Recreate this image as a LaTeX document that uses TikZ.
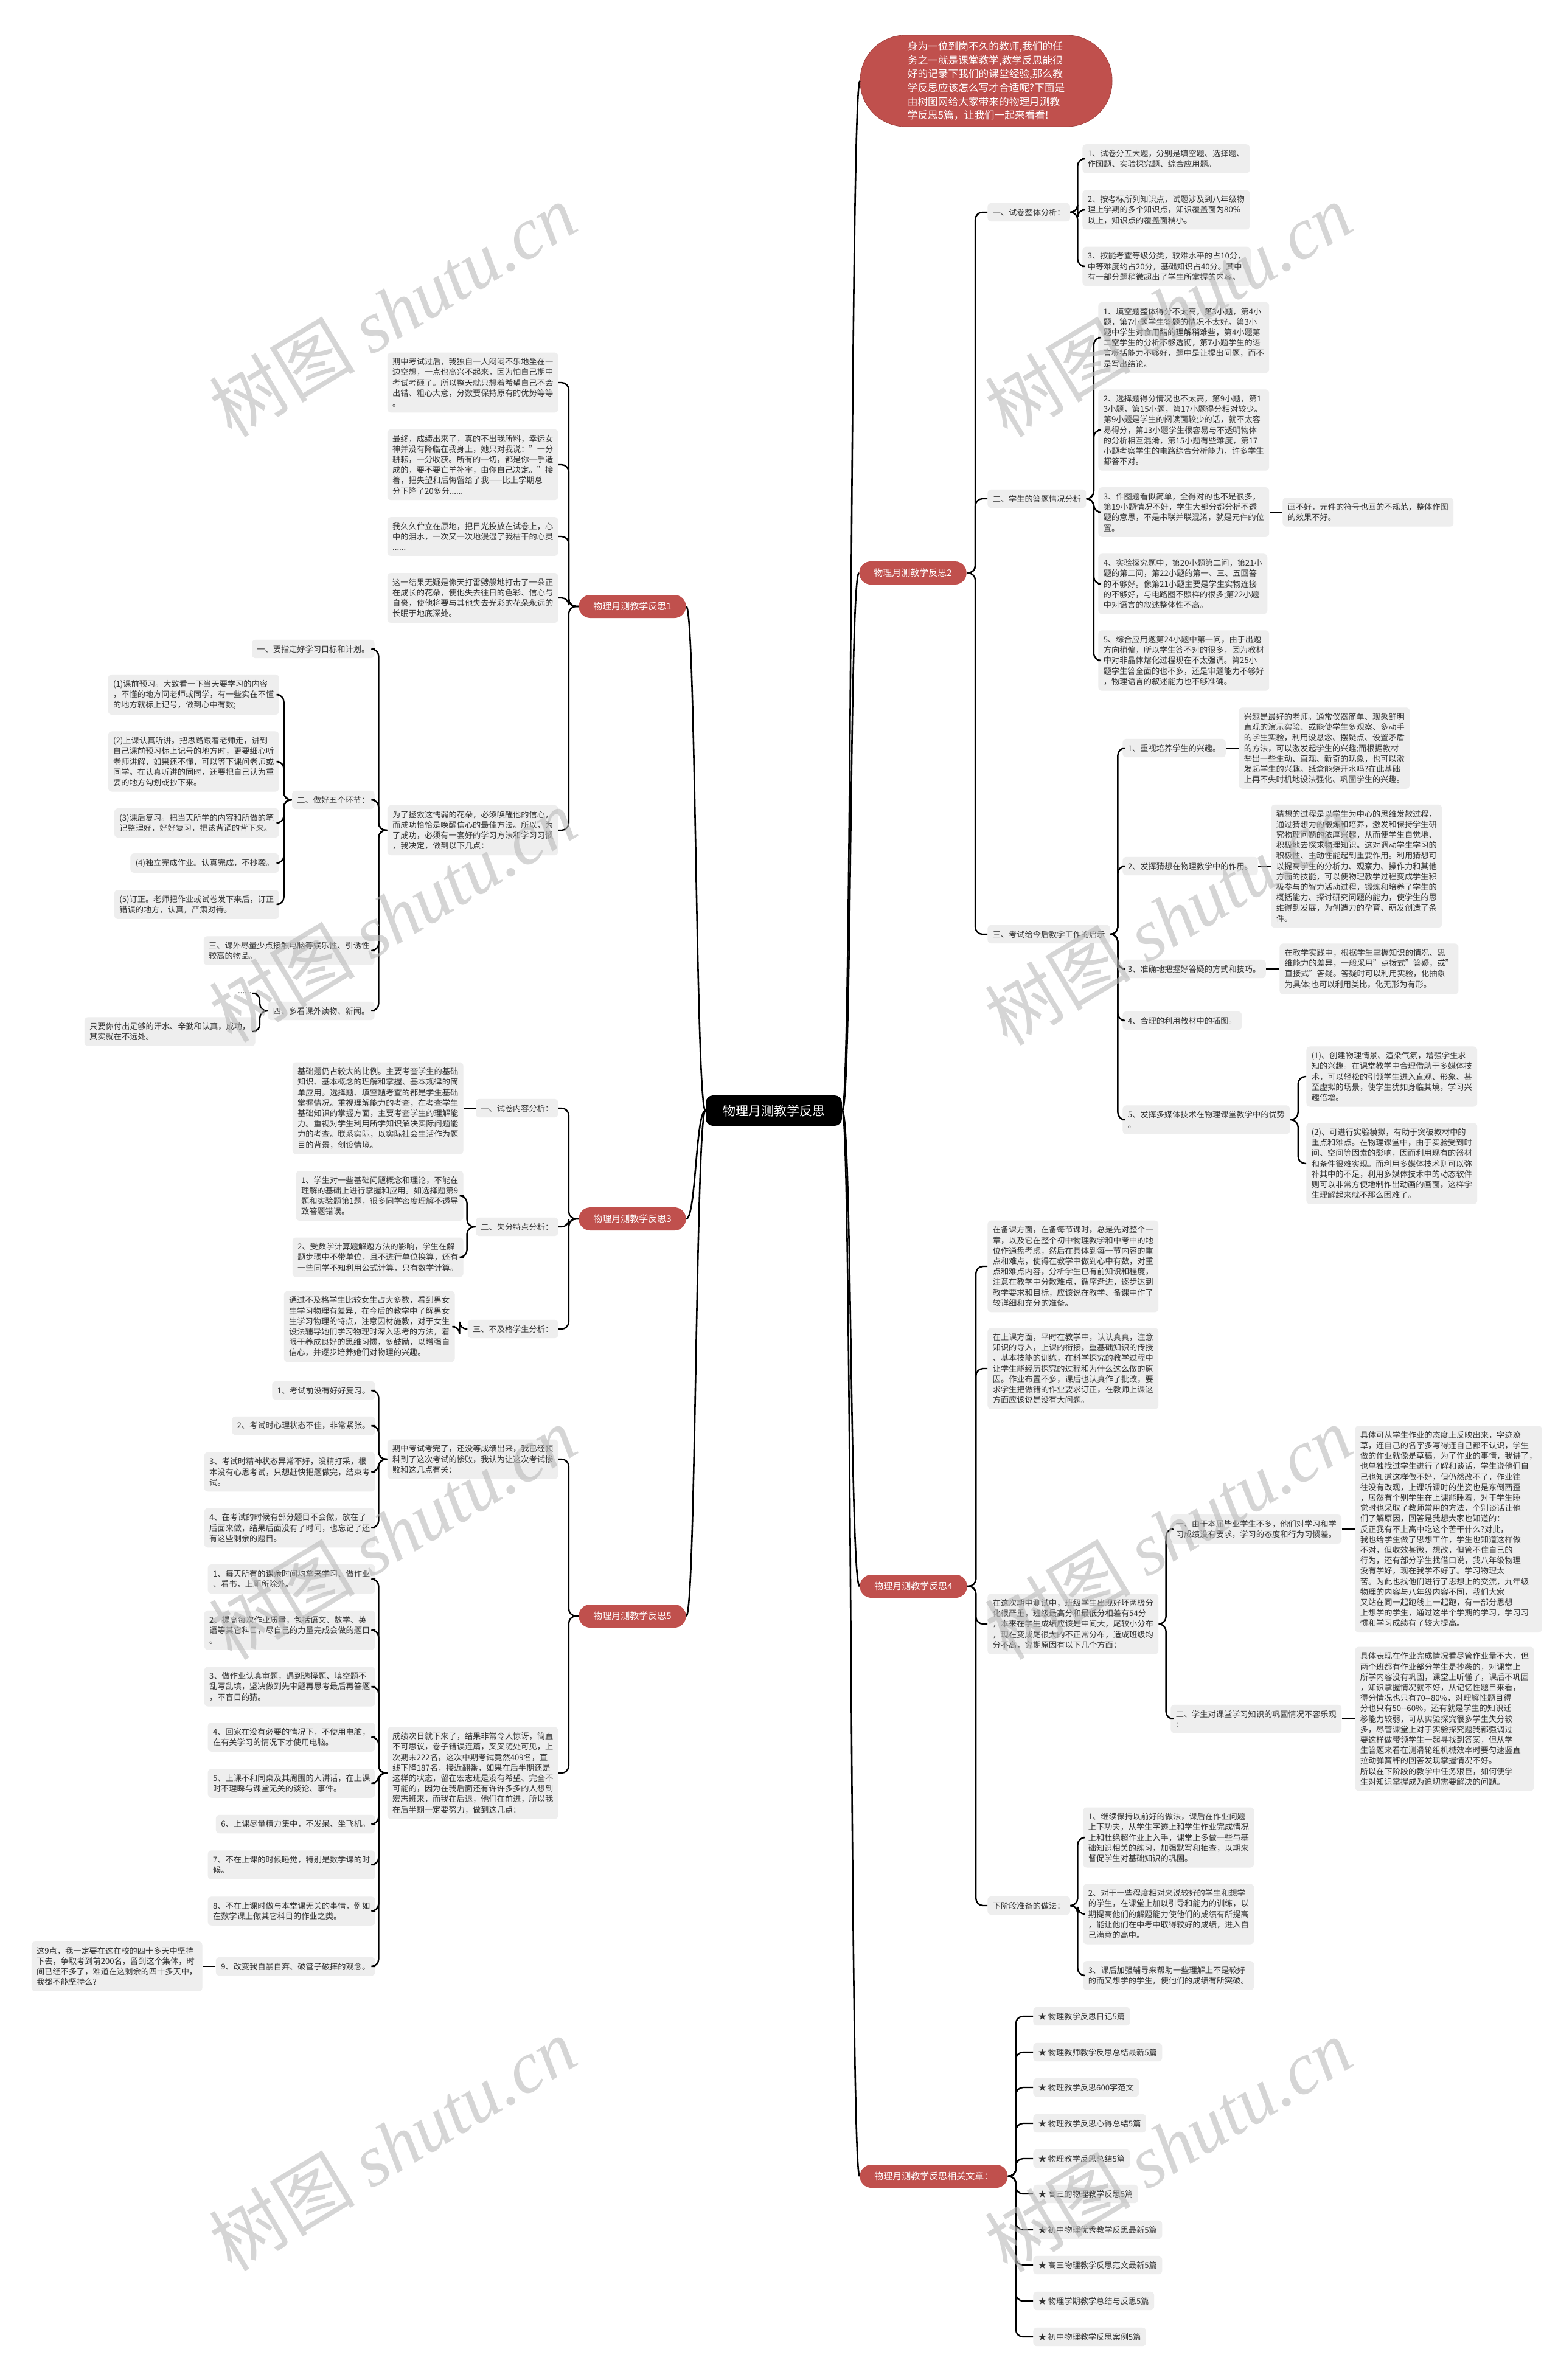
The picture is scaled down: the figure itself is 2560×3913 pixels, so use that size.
\documentclass[tikz,border=0pt]{standalone}
\usepackage{fontspec}
\setmainfont{Noto Sans CJK SC}
\newfontfamily\wmlatin{Liberation Serif}
\usetikzlibrary{positioning}
\definecolor{mapred}{RGB}{192,80,77}
\definecolor{mapgray}{RGB}{238,238,238}
\definecolor{maptext}{RGB}{51,51,51}
\definecolor{mapwater}{RGB}{185,185,185}

\begin{document}
\begin{tikzpicture}[x=0.5pt,y=-0.5pt,
  rootbox/.style={fill=black,text=white,rounded corners=6pt,font=\fontsize{10.5pt}{12pt}\selectfont,inner xsep=14pt,minimum height=25pt},
  introbox/.style={fill=mapred,draw=mapred!85!black,line width=0.4pt,text=white,rounded corners=37pt,minimum width=207pt,minimum height=75pt,align=left,font=\fontsize{8.35pt}{11.35pt}\selectfont},
  fsbox/.style={fill=mapred,text=white,rounded corners=9.5pt,font=\fontsize{7.5pt}{9pt}\selectfont,inner xsep=12pt,minimum height=19pt},
  notebox/.style={fill=mapgray,text=maptext,rounded corners=3pt,font=\fontsize{6.6pt}{8.6pt}\selectfont,align=left,inner xsep=4.2pt,inner ysep=4.5pt},
  conn/.style={draw=black,line width=1.2pt,rounded corners=6pt},
  trunk/.style={draw=black,line width=1.3pt},
  water/.style={rotate=31,text=mapwater,opacity=0.6,font=\fontsize{60pt}{60pt}\selectfont}
]
\useasboundingbox (0,0) rectangle (2560,3913);
\fill[white] (0,0) rectangle (2560,3913);

\node[rootbox] (main) at (1272,1826) {物理月测教学反思};
\node[introbox] (intro) at (1621,133) {身为一位到岗不久的教师,我们的任\\务之一就是课堂教学,教学反思能很\\好的记录下我们的课堂经验,那么教\\学反思应该怎么写才合适呢?下面是\\由树图网给大家带来的物理月测教\\学反思5篇，让我们一起来看看!};

\node[fsbox,anchor=east] (fs1) at (1128,997) {物理月测教学反思1};
\node[fsbox,anchor=west] (fs2) at (1412,942) {物理月测教学反思2};
\node[fsbox,anchor=east] (fs3) at (1128,2004) {物理月测教学反思3};
\node[fsbox,anchor=west] (fs4) at (1413,2608) {物理月测教学反思4};
\node[fsbox,anchor=east] (fs5) at (1128,2657) {物理月测教学反思5};
\node[fsbox,anchor=west] (rel) at (1413,3578) {物理月测教学反思相关文章：};

% 反思1
\node[notebox,anchor=east] (n1a) at (918,629) {期中考试过后，我独自一人闷闷不乐地坐在一\\边空想，一点也高兴不起来，因为怕自己期中\\考试考砸了。所以整天就只想着希望自己不会\\出错、粗心大意，分数要保持原有的优势等等\\。};
\node[notebox,anchor=east] (n1b) at (918,764) {最终，成绩出来了，真的不出我所料，幸运女\\神并没有降临在我身上，她只对我说："一分\\耕耘，一分收获。所有的一切，都是你一手造\\成的，要不要亡羊补牢，由你自己决定。"接\\着，把失望和后悔留给了我——比上学期总\\分下降了20多分......};
\node[notebox,anchor=east] (n1c) at (918,882) {我久久伫立在原地，把目光投放在试卷上，心\\中的泪水，一次又一次地漫湿了我枯干的心灵\\......};
\node[notebox,anchor=east] (n1d) at (918,983) {这一结果无疑是像天打雷劈般地打击了一朵正\\在成长的花朵，使他失去往日的色彩、信心与\\自豪，使他将要与其他失去光彩的花朵永远的\\长眠于地底深处。};
\node[notebox,anchor=east] (n1e) at (918,1365) {为了拯救这懦弱的花朵，必须唤醒他的信心，\\而成功恰恰是唤醒信心的最佳方法。所以，为\\了成功，必须有一套好的学习方法和学习习惯\\，我决定，做到以下几点：};
\node[notebox,anchor=east] (n1e1) at (616,1067) {一、要指定好学习目标和计划。};
\node[notebox,anchor=east] (n1e2) at (616,1315) {二、做好五个环节：};
\node[notebox,anchor=east] (n1e2a) at (459,1142) {(1)课前预习。大致看一下当天要学习的内容\\，不懂的地方问老师或同学，有一些实在不懂\\的地方就标上记号，做到心中有数;};
\node[notebox,anchor=east] (n1e2b) at (459,1252) {(2)上课认真听讲。把思路跟着老师走，讲到\\自己课前预习标上记号的地方时，更要细心听\\老师讲解，如果还不懂，可以等下课问老师或\\同学。在认真听讲的同时，还要把自己认为重\\要的地方勾划或抄下来。};
\node[notebox,anchor=east] (n1e2c) at (459,1353) {(3)课后复习。把当天所学的内容和所做的笔\\记整理好，好好复习，把该背诵的背下来。};
\node[notebox,anchor=east] (n1e2d) at (459,1419) {(4)独立完成作业。认真完成，不抄袭。};
\node[notebox,anchor=east] (n1e2e) at (459,1487) {(5)订正。老师把作业或试卷发下来后，订正\\错误的地方，认真，严肃对待。};
\node[notebox,anchor=east] (n1e3) at (616,1563) {三、课外尽量少点接触电脑等娱乐性、引诱性\\较高的物品。};
\node[notebox,anchor=east] (n1e4) at (616,1662) {四、多看课外读物、新闻。};
\node[notebox,fill=none,anchor=east] (n1e4a) at (422,1633) {......};
\node[notebox,anchor=east] (n1e4b) at (420,1696) {只要你付出足够的汗水、辛勤和认真，成功，\\其实就在不远处。};

% 反思2
\node[notebox,anchor=west] (n2a) at (1623,349) {一、试卷整体分析：};
\node[notebox,anchor=west] (n2a1) at (1779,261) {1、试卷分五大题，分别是填空题、选择题、\\作图题、实验探究题、综合应用题。};
\node[notebox,anchor=west] (n2a2) at (1779,345) {2、按考标所列知识点，试题涉及到八年级物\\理上学期的多个知识点，知识覆盖面为80\%\\以上，知识点的覆盖面稍小。};
\node[notebox,anchor=west] (n2a3) at (1779,438) {3、按能考查等级分类，较难水平的占10分，\\中等难度约占20分，基础知识占40分。其中\\有一部分题稍微超出了学生所掌握的内容。};
\node[notebox,anchor=west] (n2b) at (1623,820) {二、学生的答题情况分析};
\node[notebox,anchor=west] (n2b1) at (1805,555) {1、填空题整体得分不太高，第3小题，第4小\\题，第7小题学生答题的情况不太好。第3小\\题中学生对食用醋的理解稍难些，第4小题第\\二空学生的分析不够透彻，第7小题学生的语\\言概括能力不够好，题中是让提出问题，而不\\是写出结论。};
\node[notebox,anchor=west] (n2b2) at (1805,707) {2、选择题得分情况也不太高，第9小题，第1\\3小题，第15小题，第17小题得分相对较少。\\第9小题是学生的阅读面较少的话，就不太容\\易得分，第13小题学生很容易与不透明物体\\的分析相互混淆，第15小题有些难度，第17\\小题考察学生的电路综合分析能力，许多学生\\都答不对。};
\node[notebox,anchor=west] (n2b3) at (1805,842) {3、作图题看似简单，全得对的也不是很多，\\第19小题情况不好，学生大部分都分析不透\\题的意思，不是串联并联混淆，就是元件的位\\置。};
\node[notebox,anchor=west] (n2b3a) at (2108,842) {画不好，元件的符号也画的不规范，整体作图\\的效果不好。};
\node[notebox,anchor=west] (n2b4) at (1805,960) {4、实验探究题中，第20小题第二问，第21小\\题的第二问，第22小题的第一、三、五回答\\的不够好。像第21小题主要是学生实物连接\\的不够好，与电路图不照样的很多;第22小题\\中对语言的叙述整体性不高。};
\node[notebox,anchor=west] (n2b5) at (1805,1086) {5、综合应用题第24小题中第一问，由于出题\\方向稍偏，所以学生答不对的很多，因为教材\\中对非晶体熔化过程现在不太强调。第25小\\题学生答全面的也不多，还是审题能力不够好\\，物理语言的叙述能力也不够准确。};
\node[notebox,anchor=west] (n2c) at (1623,1536) {三、考试给今后教学工作的启示};
\node[notebox,anchor=west] (n2c1) at (1845,1230) {1、重视培养学生的兴趣。};
\node[notebox,anchor=west] (n2c1a) at (2036,1230) {兴趣是最好的老师。通常仪器简单、现象鲜明\\直观的演示实验、或能使学生多观察、多动手\\的学生实验，利用设悬念、摆疑点、设置矛盾\\的方法，可以激发起学生的兴趣;而根据教材\\举出一些生动、直观、新奇的现象，也可以激\\发起学生的兴趣。纸盒能烧开水吗?在此基础\\上再不失时机地设法强化、巩固学生的兴趣。};
\node[notebox,anchor=west] (n2c2) at (1845,1424) {2、发挥猜想在物理教学中的作用。};
\node[notebox,anchor=west] (n2c2a) at (2089,1424) {猜想的过程是以学生为中心的思维发散过程，\\通过猜想力的锻炼和培养，激发和保持学生研\\究物理问题的浓厚兴趣，从而使学生自觉地、\\积极地去探求物理知识。这对调动学生学习的\\积极性、主动性能起到重要作用。利用猜想可\\以提高学生的分析力、观察力、操作力和其他\\方面的技能，可以使物理教学过程变成学生积\\极参与的智力活动过程，锻炼和培养了学生的\\概括能力、探讨研究问题的能力，使学生的思\\维得到发展，为创造力的孕育、萌发创造了条\\件。};
\node[notebox,anchor=west] (n2c3) at (1845,1593) {3、准确地把握好答疑的方式和技巧。};
\node[notebox,anchor=west] (n2c3a) at (2103,1593) {在教学实践中，根据学生掌握知识的情况、思\\维能力的差异，一般采用"点拨式"答疑，或"\\直接式"答疑。答疑时可以利用实验，化抽象\\为具体;也可以利用类比，化无形为有形。};
\node[notebox,anchor=west] (n2c4) at (1845,1678) {4、合理的利用教材中的插图。};
\node[notebox,anchor=west] (n2c5) at (1845,1841) {5、发挥多媒体技术在物理课堂教学中的优势\\。};
\node[notebox,anchor=west] (n2c5a) at (2147,1770) {(1)、创建物理情景、渲染气氛，增强学生求\\知的兴趣。在课堂教学中合理借助于多媒体技\\术，可以轻松的引领学生进入直观、形象、甚\\至虚拟的场景，使学生犹如身临其境，学习兴\\趣倍增。};
\node[notebox,anchor=west] (n2c5b) at (2147,1913) {(2)、可进行实验模拟，有助于突破教材中的\\重点和难点。在物理课堂中，由于实验受到时\\间、空间等因素的影响，因而利用现有的器材\\和条件很难实现。而利用多媒体技术则可以弥\\补其中的不足，利用多媒体技术中的动态软件\\则可以非常方便地制作出动画的画面，这样学\\生理解起来就不那么困难了。};

% 反思3
\node[notebox,anchor=east] (n3a) at (918,1822) {一、试卷内容分析：};
\node[notebox,anchor=east] (n3a1) at (762,1822) {基础题仍占较大的比例。主要考查学生的基础\\知识、基本概念的理解和掌握、基本规律的简\\单应用。选择题、填空题考查的都是学生基础\\掌握情况。重视理解能力的考查，在考查学生\\基础知识的掌握方面，主要考查学生的理解能\\力。重视对学生利用所学知识解决实际问题能\\力的考查。联系实际，以实际社会生活作为题\\目的背景，创设情境。};
\node[notebox,anchor=east] (n3b) at (918,2017) {二、失分特点分析：};
\node[notebox,anchor=east] (n3b1) at (762,1966) {1、学生对一些基础问题概念和理论，不能在\\理解的基础上进行掌握和应用。如选择题第9\\题和实验题第1题，很多同学密度理解不透导\\致答题错误。};
\node[notebox,anchor=east] (n3b2) at (762,2067) {2、受数学计算题解题方法的影响，学生在解\\题步骤中不带单位，且不进行单位换算，还有\\一些同学不知利用公式计算，只有数学计算。};
\node[notebox,anchor=east] (n3c) at (918,2185) {三、不及格学生分析：};
\node[notebox,anchor=east] (n3c1) at (748,2181) {通过不及格学生比较女生占大多数，看到男女\\生学习物理有差异，在今后的教学中了解男女\\生学习物理的特点，注意因材施教，对于女生\\设法辅导她们学习物理时深入思考的方法，着\\眼于养成良好的思维习惯，多鼓励，以增强自\\信心，并逐步培养她们对物理的兴趣。};

% 反思4
\node[notebox,anchor=west] (n4a) at (1623,2082) {在备课方面，在备每节课时，总是先对整个一\\章，以及它在整个初中物理教学和中考中的地\\位作通盘考虑，然后在具体到每一节内容的重\\点和难点，使得在教学中做到心中有数，对重\\点和难点内容，分析学生已有前知识和程度，\\注意在教学中分散难点，循序渐进，逐步达到\\教学要求和目标，应该说在教学、备课中作了\\较详细和充分的准备。};
\node[notebox,anchor=west] (n4b) at (1623,2250) {在上课方面，平时在教学中，认认真真，注意\\知识的导入，上课的衔接，重基础知识的传授\\、基本技能的训练，在科学探究的教学过程中\\让学生能经历探究的过程和为什么这么做的原\\因。作业布置不多，课后也认真作了批改，要\\求学生把做错的作业要求订正，在教师上课这\\方面应该说是没有大问题。};
\node[notebox,anchor=west] (n4c) at (1623,2670) {在这次期中测试中，班级学生出现好坏两极分\\化很严重，班级最高分和最低分相差有54分\\，本来在学生成绩应该是中间大，尾较小分布\\，现在变成尾很大的不正常分布，造成班级均\\分不高，究期原因有以下几个方面：};
\node[notebox,anchor=west] (n4c1) at (1924,2514) {一、由于本届毕业学生不多，他们对学习和学\\习成绩没有要求，学习的态度和行为习惯差。};
\node[notebox,anchor=west] (n4c1a) at (2227,2514) {具体可从学生作业的态度上反映出来，字迹潦\\草，连自己的名字多写得连自己都不认识，学生\\做的作业就像是草稿，为了作业的事情，我讲了，\\也单独找过学生进行了解和谈话，学生说他们自\\己也知道这样做不好，但仍然改不了，作业往\\往没有改观，上课听课时的坐姿也是东倒西歪\\，居然有个别学生在上课能睡着，对于学生睡\\觉时也采取了教师常用的方法，个别谈话让他\\们了解原因，回答是我想大家也知道的：\\反正我有不上高中吃这个苦干什么?对此，\\我也给学生做了思想工作，学生也知道这样做\\不对，但收效甚微，想改，但管不住自己的\\行为，还有部分学生找借口说，我八年级物理\\没有学好，现在我学不好了。学习物理太\\苦。为此也找他们进行了思想上的交流，九年级\\物理的内容与八年级内容不同，我们大家\\又站在同一起跑线上一起跑，有一部分思想\\上想学的学生，通过这半个学期的学习，学习习\\惯和学习成绩有了较大提高。};
\node[notebox,anchor=west] (n4c2) at (1924,2826) {二、学生对课堂学习知识的巩固情况不容乐观\\：};
\node[notebox,anchor=west] (n4c2a) at (2227,2826) {具体表现在作业完成情况看尽管作业量不大，但\\两个班都有作业部分学生是抄袭的，对课堂上\\所学内容没有巩固，课堂上听懂了，课后不巩固\\，知识掌握情况就不好，从记忆性题目来看，\\得分情况也只有70-{}-80\%，对理解性题目得\\分也只有50-{}-60\%，还有就是学生的知识迁\\移能力较弱，可从实验探究很多学生失分较\\多，尽管课堂上对于实验探究题我都强调过\\要这样做带领学生一起寻找到答案，但从学\\生答题来看在测滑轮组机械效率时要匀速竖直\\拉动弹簧秤的回答发现掌握情况不好。\\所以在下阶段的教学中任务艰巨，如何使学\\生对知识掌握成为迫切需要解决的问题。};
\node[notebox,anchor=west] (n4d) at (1623,3133) {下阶段准备的做法：};
\node[notebox,anchor=west] (n4d1) at (1780,3021) {1、继续保持以前好的做法，课后在作业问题\\上下功夫，从学生字迹上和学生作业完成情况\\上和杜绝超作业上入手，课堂上多做一些与基\\础知识相关的练习，加强默写和抽查，以期来\\督促学生对基础知识的巩固。};
\node[notebox,anchor=west] (n4d2) at (1780,3147) {2、对于一些程度相对来说较好的学生和想学\\的学生，在课堂上加以引导和能力的训练，以\\期提高他们的解题能力使他们的成绩有所提高\\，能让他们在中考中取得较好的成绩，进入自\\己满意的高中。};
\node[notebox,anchor=west] (n4d3) at (1780,3248) {3、课后加强辅导来帮助一些理解上不是较好\\的而又想学的学生，使他们的成绩有所突破。};

% 反思5
\node[notebox,anchor=east] (n5a) at (918,2399) {期中考试考完了，还没等成绩出来，我已经预\\料到了这次考试的惨败，我认为让这次考试惨\\败和这几点有关：};
\node[notebox,anchor=east] (n5a1) at (617,2286) {1、考试前没有好好复习。};
\node[notebox,anchor=east] (n5a2) at (617,2344) {2、考试时心理状态不佳，非常紧张。};
\node[notebox,anchor=east] (n5a3) at (617,2420) {3、考试时精神状态异常不好，没精打采，根\\本没有心思考试，只想赶快把题做完，结束考\\试。};
\node[notebox,anchor=east] (n5a4) at (617,2512) {4、在考试的时候有部分题目不会做，放在了\\后面来做，结果后面没有了时间，也忘记了还\\有这些剩余的题目。};
\node[notebox,anchor=east] (n5b) at (918,2915) {成绩次日就下来了，结果非常令人惊讶，简直\\不可思议，卷子错误连篇，叉叉随处可见，上\\次期末222名，这次中期考试竟然409名，直\\线下降187名，接近翻番，如果在后半期还是\\这样的状态，留在宏志班是没有希望、完全不\\可能的，因为在我后面还有许许多多的人想到\\宏志班来，而我在后退，他们在前进，所以我\\在后半期一定要努力，做到这几点：};
\node[notebox,anchor=east] (n5b1) at (617,2596) {1、每天所有的课余时间均拿来学习、做作业\\、看书，上厕所除外。};
\node[notebox,anchor=east] (n5b2) at (617,2680) {2、提高每次作业质量，包括语文、数学、英\\语等其它科目，尽自己的力量完成会做的题目\\。};
\node[notebox,anchor=east] (n5b3) at (617,2773) {3、做作业认真审题，遇到选择题、填空题不\\乱写乱填，坚决做到先审题再思考最后再答题\\，不盲目的猜。};
\node[notebox,anchor=east] (n5b4) at (617,2856) {4、回家在没有必要的情况下，不使用电脑，\\在有关学习的情况下才使用电脑。};
\node[notebox,anchor=east] (n5b5) at (617,2932) {5、上课不和同桌及其周围的人讲话，在上课\\时不理睬与课堂无关的谈论、事件。};
\node[notebox,anchor=east] (n5b6) at (617,2999) {6、上课尽量精力集中，不发呆、坐飞机。};
\node[notebox,anchor=east] (n5b7) at (617,3066) {7、不在上课的时候睡觉，特别是数学课的时\\候。};
\node[notebox,anchor=east] (n5b8) at (617,3142) {8、不在上课时做与本堂课无关的事情，例如\\在数学课上做其它科目的作业之类。};
\node[notebox,anchor=east] (n5b9) at (617,3233) {9、改变我自暴自弃、破管子破摔的观念。};
\node[notebox,anchor=east] (n5b9a) at (333,3233) {这9点，我一定要在这在校的四十多天中坚持\\下去，争取考到前200名，留到这个集体，时\\间已经不多了，难道在这剩余的四十多天中，\\我都不能坚持么?};

% connectors
\foreach \b in {intro,fs2,fs4,rel}
  \draw[trunk] (main.east) .. controls +(16,0) and +(-16,0) .. (\b.west);
\foreach \b in {fs1,fs3,fs5}
  \draw[trunk] (main.west) .. controls +(-16,0) and +(16,0) .. (\b.east);

\foreach \c in {n1a,n1b,n1c,n1d,n1e}
  \draw[conn] (fs1.west) -- ++(-16,0) |- (\c.east);
\foreach \c in {n1e1,n1e2,n1e3,n1e4}
  \draw[conn] (n1e.west) -- ++(-14,0) |- (\c.east);
\foreach \c in {n1e2a,n1e2b,n1e2c,n1e2d,n1e2e}
  \draw[conn] (n1e2.west) -- ++(-13,0) |- (\c.east);
\foreach \c in {n1e4a,n1e4b}
  \draw[conn] (n1e4.west) -- ++(-13,0) |- (\c.east);

\foreach \c in {n2a,n2b,n2c}
  \draw[conn] (fs2.east) -- ++(14,0) |- (\c.west);
\foreach \c in {n2a1,n2a2,n2a3}
  \draw[conn] (n2a.east) -- ++(12,0) |- (\c.west);
\foreach \c in {n2b1,n2b2,n2b3,n2b4,n2b5}
  \draw[conn] (n2b.east) -- ++(12,0) |- (\c.west);
\draw[conn] (n2b3.east) -- (n2b3a.west);
\foreach \c in {n2c1,n2c2,n2c3,n2c4,n2c5}
  \draw[conn] (n2c.east) -- ++(12,0) |- (\c.west);
\draw[conn] (n2c1.east) -- (n2c1a.west);
\draw[conn] (n2c2.east) -- (n2c2a.west);
\draw[conn] (n2c3.east) -- (n2c3a.west);
\foreach \c in {n2c5a,n2c5b}
  \draw[conn] (n2c5.east) -- ++(13,0) |- (\c.west);

\foreach \c in {n3a,n3b,n3c}
  \draw[conn] (fs3.west) -- ++(-16,0) |- (\c.east);
\draw[conn] (n3a.west) -- (n3a1.east);
\foreach \c in {n3b1,n3b2}
  \draw[conn] (n3b.west) -- ++(-14,0) |- (\c.east);
\draw[conn] (n3c.west) -- ++(-13,0) |- (n3c1.east);

\foreach \c in {n4a,n4b,n4c,n4d}
  \draw[conn] (fs4.east) -- ++(14,0) |- (\c.west);
\foreach \c in {n4c1,n4c2}
  \draw[conn] (n4c.east) -- ++(12,0) |- (\c.west);
\draw[conn] (n4c1.east) -- (n4c1a.west);
\draw[conn] (n4c2.east) -- (n4c2a.west);
\foreach \c in {n4d1,n4d2,n4d3}
  \draw[conn] (n4d.east) -- ++(12,0) |- (\c.west);

\foreach \c in {n5a,n5b}
  \draw[conn] (fs5.west) -- ++(-16,0) |- (\c.east);
\foreach \c in {n5a1,n5a2,n5a3,n5a4}
  \draw[conn] (n5a.west) -- ++(-14,0) |- (\c.east);
\foreach \c in {n5b1,n5b2,n5b3,n5b4,n5b5,n5b6,n5b7,n5b8,n5b9}
  \draw[conn] (n5b.west) -- ++(-14,0) |- (\c.east);
\draw[conn] (n5b9.west) -- (n5b9a.east);

\foreach \i/\y/\txt in {1/3315/物理教学反思日记5篇,2/3374/物理教师教学反思总结最新5篇,3/3432/物理教学反思600字范文,4/3491/物理教学反思心得总结5篇,5/3549/物理教学反思总结5篇,6/3607/高三的物理教学反思5篇,7/3666/初中物理优秀教学反思最新5篇,8/3724/高三物理教学反思范文最新5篇,9/3783/物理学期教学总结与反思5篇,10/3842/初中物理教学反思案例5篇}{
  \node[notebox,anchor=west] (rel\i) at (1698,\y) {★ \txt};
  \draw[conn] (rel.east) -- ++(13,0) |- (rel\i.west);
}

% watermark
\foreach \wx/\wy in {645/510,1920/510,645/1505,1920/1510,645/2520,1920/2520,645/3525,1920/3527}
  \node[water] at (\wx,\wy) {树图 {\wmlatin\itshape shutu.cn}};
\end{tikzpicture}
\end{document}
